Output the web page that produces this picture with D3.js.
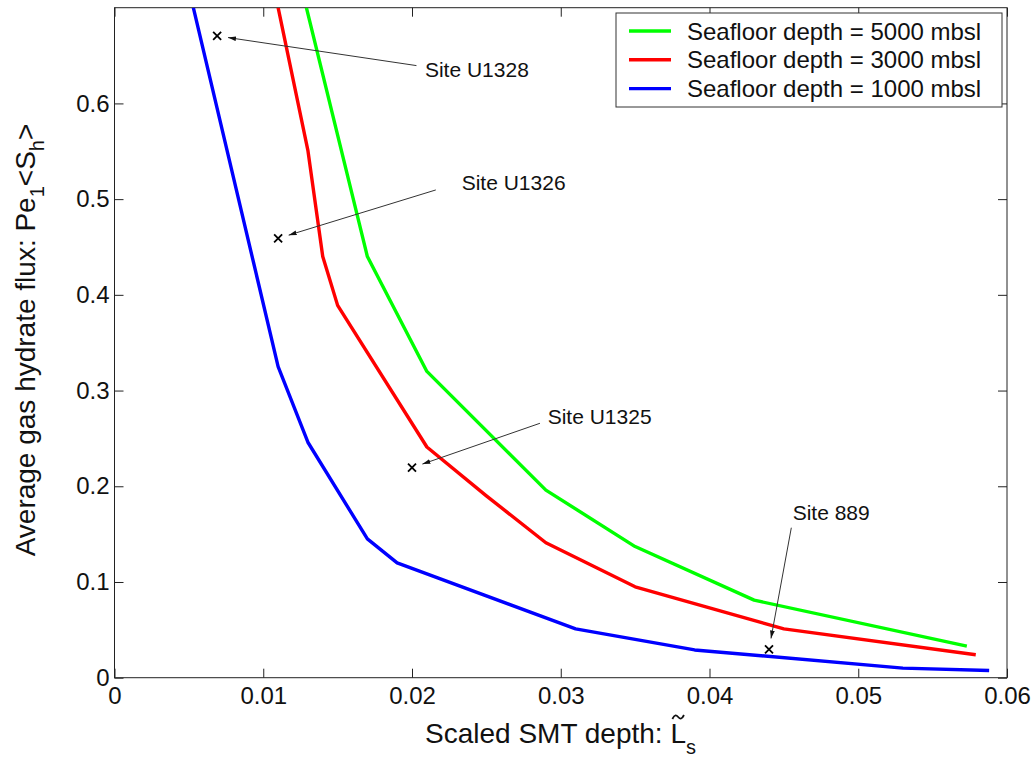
<!DOCTYPE html>
<html>
<head>
<meta charset="utf-8">
<script src="https://cdn.jsdelivr.net/npm/d3@7"></script>
<style>
  html, body { margin: 0; padding: 0; background: #fff; }
  svg { display: block; font-family: Arial, "Liberation Sans", Helvetica, sans-serif; }
</style>
</head>
<body>
<svg id="chart" width="1036" height="761"></svg>
<script>
// ---- data ----
const xTicks = [0, 0.01, 0.02, 0.03, 0.04, 0.05, 0.06];
const yTicks = [0, 0.1, 0.2, 0.3, 0.4, 0.5, 0.6];

const seriesNames = ["Seafloor depth = 5000 mbsl", "Seafloor depth = 3000 mbsl", "Seafloor depth = 1000 mbsl"];

const greenX = [0.0129, 0.017, 0.021, 0.029, 0.035, 0.043, 0.0573];
const greenY = [0.70, 0.44, 0.32, 0.196, 0.137, 0.081, 0.033];

const redX = [0.011, 0.013, 0.014, 0.015, 0.021, 0.025, 0.029, 0.035, 0.045, 0.0579];
const redY = [0.70, 0.551, 0.44, 0.389, 0.241, 0.190, 0.141, 0.095, 0.051, 0.024];

const blueX = [0.0053, 0.011, 0.013, 0.017, 0.019, 0.031, 0.039, 0.053, 0.0588];
const blueY = [0.70, 0.325, 0.246, 0.145, 0.120, 0.051, 0.029, 0.010, 0.0075];

const siteNames = ["Site U1328", "Site U1326", "Site U1325", "Site 889"];
const siteX = [0.0069, 0.011, 0.020, 0.044];
const siteY = [0.6705, 0.459, 0.2194, 0.0297];
const arrowTailX = [0.0203, 0.0216, 0.0286, 0.0455];
const arrowTailY = [0.6395, 0.5096, 0.2658, 0.1567];
const labelX = [0.02087, 0.02334, 0.02912, 0.04559];
const labelY = [0.6278, 0.5096, 0.2651, 0.1648];

// ---- layout ----
(function () {
const svg = d3.select("#chart");
const pL = 114.5, pR = 1007, pT = 7.7, pB = 677.7;
const x = d3.scaleLinear().domain([0, 0.06]).range([pL, pR]);
const y = d3.scaleLinear().domain([0, 0.7]).range([pB, pT]);

const axisColor = "#222";
const fmt = d => d === 0 ? "0" : String(+d.toFixed(2));

const defs = svg.append("defs");
defs.append("clipPath").attr("id", "plotclip")
  .append("rect").attr("x", pL).attr("y", pT).attr("width", pR - pL).attr("height", pB - pT);

defs.append("marker")
  .attr("id", "arrowhead")
  .attr("markerUnits", "userSpaceOnUse")
  .attr("viewBox", "0 0 10 6")
  .attr("refX", 10).attr("refY", 3)
  .attr("markerWidth", 8).attr("markerHeight", 5)
  .attr("orient", "auto")
  .append("path").attr("d", "M0,0 L10,3 L0,6 z").attr("fill", "#111");

// axes
const gx = svg.append("g").attr("transform", `translate(0,${pB})`)
  .call(d3.axisBottom(x).tickValues(xTicks).tickSize(-9).tickPadding(9).tickFormat(fmt));
const gy = svg.append("g").attr("transform", `translate(${pL},0)`)
  .call(d3.axisLeft(y).tickValues(yTicks).tickSize(-9).tickPadding(5).tickFormat(fmt));
const gt = svg.append("g").attr("transform", `translate(0,${pT})`)
  .call(d3.axisTop(x).tickValues(xTicks).tickSize(-9).tickFormat(""));
const gr = svg.append("g").attr("transform", `translate(${pR},0)`)
  .call(d3.axisRight(y).tickValues(yTicks).tickSize(-9).tickFormat(""));

[gx, gy, gt, gr].forEach(g => {
  g.select(".domain").remove();
  g.selectAll(".tick line").attr("stroke", axisColor).attr("stroke-width", 1);
  g.selectAll(".tick text").attr("fill", "#111").style("font-size", "24px")
    .style("font-family", "Arial, 'Liberation Sans', sans-serif");
});

// frame
svg.append("rect").attr("x", pL).attr("y", pT).attr("width", pR - pL).attr("height", pB - pT)
  .attr("fill", "none").attr("stroke", axisColor).attr("stroke-width", 1);

// curves
const line = d3.line().x(d => x(d[0])).y(d => y(d[1]));
const series = [
  { name: seriesNames[0], color: "#00ff00", xs: greenX, ys: greenY },
  { name: seriesNames[1], color: "#ff0000", xs: redX, ys: redY },
  { name: seriesNames[2], color: "#0000ff", xs: blueX, ys: blueY }
];
const plotG = svg.append("g").attr("clip-path", "url(#plotclip)");
series.forEach(s => {
  plotG.append("path")
    .datum(s.xs.map((v, i) => [v, s.ys[i]]))
    .attr("d", line)
    .attr("fill", "none")
    .attr("stroke", s.color)
    .attr("stroke-width", 3.4)
    .attr("stroke-linejoin", "round");
});

// site markers, arrows, labels
const annG = svg.append("g");
siteNames.forEach((name, i) => {
  const mx = x(siteX[i]), my = y(siteY[i]);
  const tx = x(arrowTailX[i]), ty = y(arrowTailY[i]);
  const dx = tx - mx, dy = ty - my, len = Math.hypot(dx, dy);
  const hx = mx + dx / len * 11, hy = my + dy / len * 11;
  annG.append("line").attr("x1", tx).attr("y1", ty).attr("x2", hx).attr("y2", hy)
    .attr("stroke", "#333").attr("stroke-width", 1).attr("marker-end", "url(#arrowhead)");
  const r = 4;
  annG.append("path")
    .attr("d", `M${mx - r},${my - r}L${mx + r},${my + r}M${mx - r},${my + r}L${mx + r},${my - r}`)
    .attr("stroke", "#000").attr("stroke-width", 1.8);
  annG.append("text").attr("x", x(labelX[i])).attr("y", y(labelY[i]))
    .style("font-size", "21px").attr("fill", "#111").text(name);
});

// legend
const lg = svg.append("g");
lg.append("rect").attr("x", 616).attr("y", 13).attr("width", 386).attr("height", 94)
  .attr("fill", "#fff").attr("stroke", "#333").attr("stroke-width", 1);
series.forEach((s, i) => {
  const ry = 31 + i * 28.8;
  lg.append("line").attr("x1", 629).attr("x2", 671).attr("y1", ry).attr("y2", ry)
    .attr("stroke", s.color).attr("stroke-width", 3.4);
  lg.append("text").attr("x", 687).attr("y", ry).attr("dy", "0.36em")
    .style("font-size", "24px").attr("fill", "#111").text(s.name);
});

// x label
const xlBase = 743;
const xl = svg.append("text").attr("x", 425).attr("y", xlBase).style("font-size", "28px").attr("fill", "#111");
xl.append("tspan").text("Scaled SMT depth: L");
xl.append("tspan").attr("dy", 11).style("font-size", "20px").text("s");
const lIndex = "Scaled SMT depth: ".length;
const node = xl.node();
const lStart = node.getStartPositionOfChar(lIndex).x;
const lEnd = node.getEndPositionOfChar(lIndex).x;
// tilde accent drawn as a small curve above the L
const t0 = lStart + 2, t1 = lEnd - 2, ty0 = xlBase - 26;
const tw = t1 - t0;
svg.append("path")
  .attr("d", `M${t0},${ty0 + 2} C${t0 + tw * 0.2},${ty0 - 3} ${t0 + tw * 0.35},${ty0 - 2} ${t0 + tw * 0.5},${ty0} S${t0 + tw * 0.8},${ty0 + 3} ${t1},${ty0 - 2}`)
  .attr("fill", "none").attr("stroke", "#111").attr("stroke-width", 1.8);

// y label
const yl = svg.append("text").attr("transform", "translate(35,340) rotate(-90)")
  .attr("text-anchor", "middle").style("font-size", "28px").attr("fill", "#111");
yl.append("tspan").text("Average gas hydrate flux: Pe");
yl.append("tspan").attr("dy", 9).style("font-size", "20px").text("1");
yl.append("tspan").attr("dy", -9).text("<S");
yl.append("tspan").attr("dy", 9).style("font-size", "20px").text("h");
yl.append("tspan").attr("dy", -9).text(">");
})();
</script>
</body>
</html>
